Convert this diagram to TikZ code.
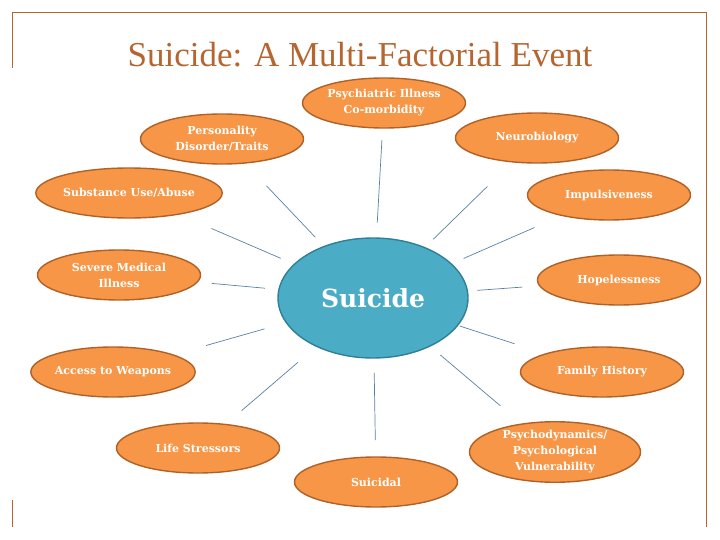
\documentclass[tikz,border=0pt]{standalone}
\usepackage{fontspec}
\usepackage{xcolor}
\usepackage{tikz}
\usetikzlibrary{shapes.geometric,calc}
\setmainfont{Liberation Serif}
\newfontfamily\labelfont{DejaVu Serif}

\definecolor{framebrown}{HTML}{B5652F}
\definecolor{factorfill}{HTML}{F79646}
\definecolor{factorline}{HTML}{B06128}
\definecolor{corefill}{HTML}{4BACC6}
\definecolor{coreline}{HTML}{2F7F96}
\definecolor{linkblue}{HTML}{5B80A5}

\begin{document}
\begin{tikzpicture}[x=1pt,y=-1pt,
  factor/.style={ellipse,draw=factorline,line width=1.4pt,fill=factorfill,
    minimum width=163pt,minimum height=50pt,inner sep=0pt,align=center,
    text=white,font=\labelfont\bfseries\fontsize{11}{16}\selectfont},
  core/.style={ellipse,draw=coreline,line width=1.4pt,fill=corefill,
    minimum width=190pt,minimum height=120pt,inner sep=0pt,
    text=white,font=\labelfont\bfseries\fontsize{25}{30}\selectfont},
  link/.style={draw=linkblue,line width=0.7pt}]
\useasboundingbox (0,0) rectangle (720,540);

% frame
\draw[framebrown,line width=0.8pt] (12,68)--(12,12)--(706,12)--(706,527);
\draw[framebrown,line width=0.8pt] (12,500)--(12,527);

\node[text=framebrown,font=\fontsize{35}{40}\selectfont] (title) at (360,55) {Suicide: A Multi-Factorial Event};

\node[core] (suicide) at (373,298) {Suicide};

\node[factor] (psych) at (384,103) {Psychiatric Illness\\Co-morbidity};
\node[factor] (pers) at (222,139) {Personality\\Disorder/Traits};
\node[factor] (neuro) at (537,138) {Neurobiology};
\node[factor] (subst) at (129,193) {Substance Use/Abuse};
\node[factor] (impuls) at (609,195) {Impulsiveness};
\node[factor] (medical) at (119,275) {Severe Medical\\Illness};
\node[factor] (hope) at (619,280) {Hopelessness};
\node[factor] (weapons) at (113,372) {Access to Weapons};
\node[factor] (family) at (602,372) {Family History};
\node[factor] (stress) at (198,448) {Life Stressors};
\node[factor] (suicidal) at (376,482) {Suicidal};
\node[factor,minimum width=171pt,minimum height=59pt] (dyn) at (555,452) {Psychodynamics/\\Psychological\\Vulnerability};

% spokes
\foreach \n/\a/\b in {psych/0.386/0.81, pers/0.382/0.705, subst/0.378/0.662,
  neuro/0.367/0.697, impuls/0.384/0.684, medical/0.426/0.634, hope/0.424/0.607,
  weapons/0.417/0.642, family/0.379/0.618, stress/0.429/0.751,
  suicidal/0.407/0.772, dyn/0.370/0.700}
  \draw[link] ($(suicide)!\a!(\n)$) -- ($(suicide)!\b!(\n)$);
\end{tikzpicture}
\end{document}
